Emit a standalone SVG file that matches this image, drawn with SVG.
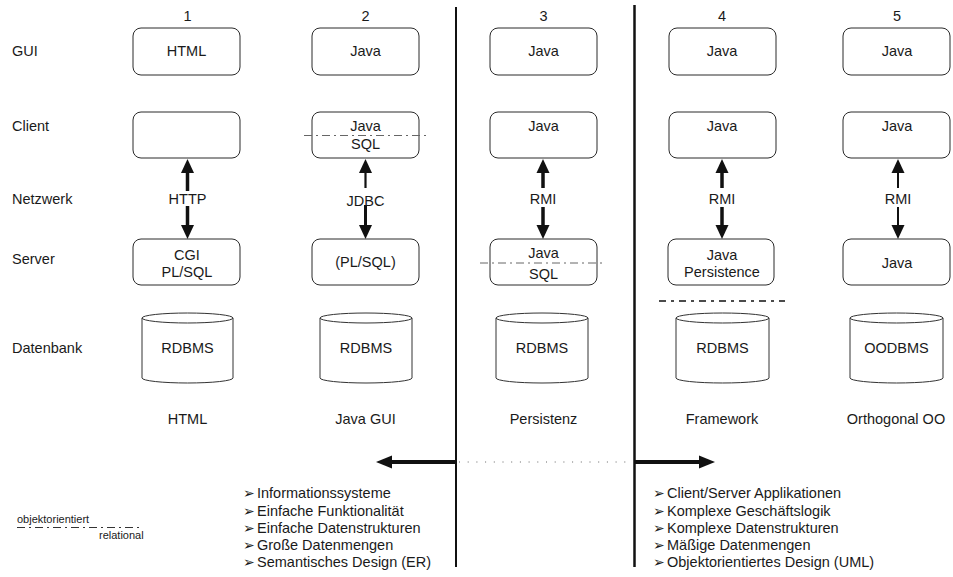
<svg xmlns="http://www.w3.org/2000/svg" width="953" height="577" viewBox="0 0 953 577">
<style>
text{font-family:"Liberation Sans",Arial,sans-serif;font-size:14.5px;fill:#1a1a1a}
.c{text-anchor:middle}
.box{fill:#fff;stroke:#2a2a2a;stroke-width:1}
.cyl{fill:#fff;stroke:#333;stroke-width:1}
.sh{stroke:#111;fill:none}
.b{font-family:"DejaVu Sans",sans-serif;font-size:14px}
.sm{font-size:11px}
</style>
<defs>
<marker id="ah" markerUnits="userSpaceOnUse" viewBox="0 -7 14 14" refX="0" refY="0" markerWidth="14" markerHeight="14" orient="auto">
<path d="M0,-6.5 L14,0 L0,6.5 z" fill="#111"/>
</marker>
<marker id="ahb" markerUnits="userSpaceOnUse" viewBox="0 -7 16 14" refX="0" refY="0" markerWidth="16" markerHeight="14" orient="auto">
<path d="M0,-6.5 L16,0 L0,6.5 z" fill="#111"/>
</marker>
</defs>
<rect width="953" height="577" fill="#fff"/>

<g id="dividers" stroke="#111" stroke-width="2">
<line x1="456" y1="7" x2="456" y2="567"/>
<line x1="634.5" y1="5" x2="634.5" y2="567" stroke-width="2.5"/>
</g>

<g id="row-labels">
<text x="12" y="56">GUI</text>
<text x="12" y="131">Client</text>
<text x="12" y="204">Netzwerk</text>
<text x="12" y="264">Server</text>
<text x="12" y="353">Datenbank</text>
</g>

<g id="numbers">
<text class="c" x="187.5" y="21">1</text>
<text class="c" x="365.5" y="21">2</text>
<text class="c" x="543.5" y="21">3</text>
<text class="c" x="722" y="21">4</text>
<text class="c" x="897" y="21">5</text>
</g>

<!-- Column 1 -->
<g id="c1-gui"><rect class="box" x="133" y="28" width="107" height="47" rx="8"/><text class="c" x="186.5" y="56">HTML</text></g>
<g id="c1-client"><rect class="box" x="133" y="112" width="107" height="46" rx="8"/></g>
<g id="c1-server"><rect class="box" x="133" y="239" width="107" height="46" rx="8"/><text class="c" x="187" y="260">CGI</text><text class="c" x="187" y="277">PL/SQL</text></g>
<g id="c1-db"><path class="cyl" d="M142,318 L142,378 A45.5,5 0 0 0 233,378 L233,318"/><ellipse class="cyl" cx="187.5" cy="318" rx="45.5" ry="5"/><text class="c" x="187.5" y="353">RDBMS</text></g>
<g id="c1-label"><text class="c" x="187.5" y="424">HTML</text></g>

<!-- Column 2 -->
<g id="c2-gui"><rect class="box" x="312" y="28" width="107" height="47" rx="8"/><text class="c" x="365.5" y="56">Java</text></g>
<g id="c2-client"><rect class="box" x="312" y="112" width="107" height="46" rx="8"/><text class="c" x="365.5" y="131">Java</text><text class="c" x="365.5" y="149">SQL</text></g>
<g id="c2-server"><rect class="box" x="312" y="239" width="107" height="46" rx="8"/><text class="c" x="365.5" y="267">(PL/SQL)</text></g>
<g id="c2-db"><path class="cyl" d="M320,318 L320,378 A46,5 0 0 0 412,378 L412,318"/><ellipse class="cyl" cx="366" cy="318" rx="46" ry="5"/><text class="c" x="366" y="353">RDBMS</text></g>
<g id="c2-label"><text class="c" x="365.5" y="424">Java GUI</text></g>

<!-- Column 3 -->
<g id="c3-gui"><rect class="box" x="490" y="28" width="107" height="47" rx="8"/><text class="c" x="543.5" y="56">Java</text></g>
<g id="c3-client"><rect class="box" x="490" y="112" width="107" height="46" rx="8"/><text class="c" x="543.5" y="131">Java</text></g>
<g id="c3-server"><rect class="box" x="490" y="239" width="107" height="46" rx="8"/><text class="c" x="543.5" y="258">Java</text><text class="c" x="543.5" y="279">SQL</text></g>
<g id="c3-db"><path class="cyl" d="M496,318 L496,378 A46,5 0 0 0 588,378 L588,318"/><ellipse class="cyl" cx="542" cy="318" rx="46" ry="5"/><text class="c" x="542" y="353">RDBMS</text></g>
<g id="c3-label"><text class="c" x="543.5" y="424">Persistenz</text></g>

<!-- Column 4 -->
<g id="c4-gui"><rect class="box" x="669" y="28" width="107" height="47" rx="8"/><text class="c" x="722" y="56">Java</text></g>
<g id="c4-client"><rect class="box" x="669" y="112" width="107" height="46" rx="8"/><text class="c" x="722" y="131">Java</text></g>
<g id="c4-server"><rect class="box" x="668" y="239" width="106" height="46" rx="8"/><text class="c" x="722" y="260">Java</text><text class="c" x="722" y="277">Persistence</text></g>
<g id="c4-db"><path class="cyl" d="M676,318 L676,378 A46.5,5 0 0 0 769,378 L769,318"/><ellipse class="cyl" cx="722.5" cy="318" rx="46.5" ry="5"/><text class="c" x="722.5" y="353">RDBMS</text></g>
<g id="c4-label"><text class="c" x="722" y="424">Framework</text></g>

<!-- Column 5 -->
<g id="c5-gui"><rect class="box" x="843" y="28" width="107" height="47" rx="8"/><text class="c" x="897" y="56">Java</text></g>
<g id="c5-client"><rect class="box" x="843" y="112" width="107" height="46" rx="8"/><text class="c" x="897" y="131">Java</text></g>
<g id="c5-server"><rect class="box" x="843" y="239" width="107" height="46" rx="8"/><text class="c" x="897" y="268">Java</text></g>
<g id="c5-db"><path class="cyl" d="M850,318 L850,378 A46.5,5 0 0 0 943,378 L943,318"/><ellipse class="cyl" cx="896.5" cy="318" rx="46.5" ry="5"/><text class="c" x="896.5" y="353">OODBMS</text></g>
<g id="c5-label"><text class="c" x="896" y="424">Orthogonal OO</text></g>

<g id="separators" fill="none">
<line x1="304" y1="135.5" x2="428" y2="135.5" stroke="#666" stroke-width="1" stroke-dasharray="8 4 2 4"/>
<line x1="480" y1="263" x2="606" y2="263" stroke="#666" stroke-width="1" stroke-dasharray="8 4 2 4"/>
<line x1="659" y1="301" x2="785" y2="301" stroke="#111" stroke-width="1.5" stroke-dasharray="7 5 3 5"/>
</g>

<g id="connectors">
<line class="sh" x1="187.5" y1="191" x2="187.5" y2="173" stroke-width="3.5" marker-end="url(#ah)"/>
<line class="sh" x1="187.5" y1="206" x2="187.5" y2="225" stroke-width="3.5" marker-end="url(#ah)"/>
<line class="sh" x1="365.5" y1="188" x2="365.5" y2="173" stroke-width="2.2" marker-end="url(#ah)"/>
<line class="sh" x1="365.5" y1="205" x2="365.5" y2="225" stroke-width="3" marker-end="url(#ah)"/>
<line class="sh" x1="543" y1="188" x2="543" y2="173" stroke-width="3.5" marker-end="url(#ah)"/>
<line class="sh" x1="543" y1="207" x2="543" y2="225" stroke-width="3.5" marker-end="url(#ah)"/>
<line class="sh" x1="722" y1="188" x2="722" y2="173" stroke-width="3.5" marker-end="url(#ah)"/>
<line class="sh" x1="722" y1="207" x2="722" y2="225" stroke-width="3.5" marker-end="url(#ah)"/>
<line class="sh" x1="898" y1="188" x2="898" y2="173" stroke-width="2" marker-end="url(#ah)"/>
<line class="sh" x1="898" y1="207" x2="898" y2="225" stroke-width="2" marker-end="url(#ah)"/>
<line class="sh" x1="456" y1="462" x2="392" y2="462" stroke-width="4" marker-end="url(#ahb)"/>
<line class="sh" x1="634" y1="462" x2="699" y2="462" stroke-width="4" marker-end="url(#ahb)"/>
<line x1="459" y1="462" x2="632" y2="462" stroke="#666" stroke-width="1" stroke-dasharray="1 7.7"/>
<text class="c" x="187.5" y="204">HTTP</text>
<text class="c" x="365.5" y="206">JDBC</text>
<text class="c" x="543" y="204">RMI</text>
<text class="c" x="722" y="204">RMI</text>
<text class="c" x="898" y="204">RMI</text>
</g>

<g id="list-left">
<text x="243" y="498"><tspan class="b">➢</tspan><tspan x="257">Informationssysteme</tspan></text>
<text x="243" y="516"><tspan class="b">➢</tspan><tspan x="257">Einfache Funktionalität</tspan></text>
<text x="243" y="533"><tspan class="b">➢</tspan><tspan x="257">Einfache Datenstrukturen</tspan></text>
<text x="243" y="550"><tspan class="b">➢</tspan><tspan x="257">Große Datenmengen</tspan></text>
<text x="243" y="567"><tspan class="b">➢</tspan><tspan x="257">Semantisches Design (ER)</tspan></text>
</g>

<g id="list-right">
<text x="653" y="498"><tspan class="b">➢</tspan><tspan x="667">Client/Server Applikationen</tspan></text>
<text x="653" y="516"><tspan class="b">➢</tspan><tspan x="667">Komplexe Geschäftslogik</tspan></text>
<text x="653" y="533"><tspan class="b">➢</tspan><tspan x="667">Komplexe Datenstrukturen</tspan></text>
<text x="653" y="550"><tspan class="b">➢</tspan><tspan x="667">Mäßige Datenmengen</tspan></text>
<text x="653" y="567"><tspan class="b">➢</tspan><tspan x="667">Objektorientiertes Design (UML)</tspan></text>
</g>

<g id="legend">
<text class="sm" x="17" y="523">objektorientiert</text>
<line x1="17" y1="527.5" x2="140" y2="527.5" stroke="#333" stroke-width="1" stroke-dasharray="8 4 2 4"/>
<text class="sm" x="99" y="539">relational</text>
</g>
</svg>
